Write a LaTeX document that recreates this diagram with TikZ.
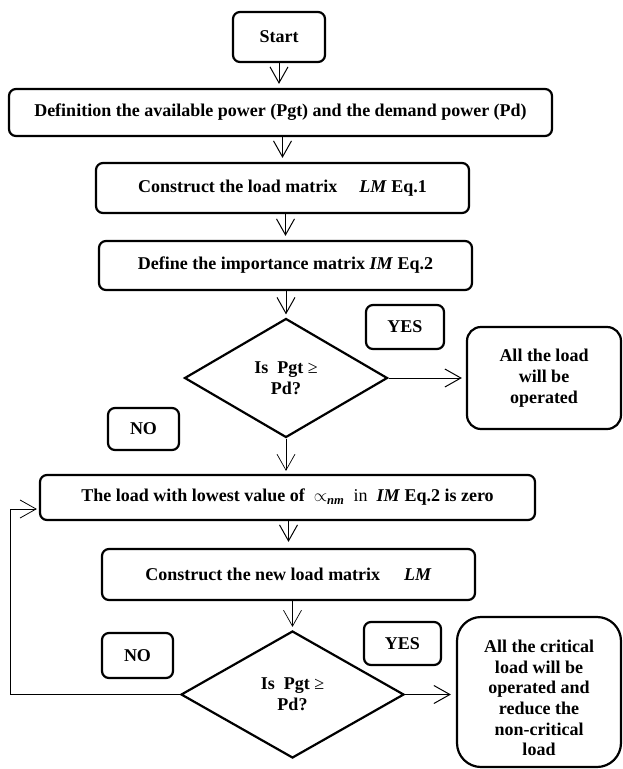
\documentclass[tikz,border=0pt]{standalone}
\usepackage{fontspec}
\setmainfont{Liberation Serif}
\usetikzlibrary{arrows.meta,shapes.geometric}
\begin{document}
\begin{tikzpicture}[x=1pt,y=-1pt,
  every node/.style={font=\fontsize{18}{20.7}\selectfont\bfseries, align=center, inner sep=0pt},
  procbox/.style={draw, line width=2.2pt, rounded corners=7pt},
  tagbox/.style={draw, line width=2.2pt, rounded corners=7pt},
  endbox/.style={draw, line width=2.2pt, rounded corners=14pt},
  decide/.style={draw, diamond, line width=2.2pt, inner sep=0pt},
  arr/.style={line width=1pt, -{Straight Barb[length=16pt,width=18pt]}},
  thinarr/.style={line width=0.7pt, -{Straight Barb[length=16pt,width=18pt]}},
]
\useasboundingbox (0,0) rectangle (622,769);

\node[procbox, minimum width=92pt, minimum height=50pt] (start) at (279,37) {Start};
\node[procbox, minimum width=543pt, minimum height=47pt] (def) at (280.5,112.5) {Definition the available power (Pgt) and the demand power (Pd)};
\node[procbox, minimum width=373pt, minimum height=50pt] (lm) at (282.5,188) {Construct the load matrix\hspace{22pt}\textit{LM} Eq.1};
\node[procbox, minimum width=373pt, minimum height=49pt] (im) at (285.5,265.5) {Define the importance matrix \textit{IM} Eq.2};
\node[decide, minimum width=203pt, minimum height=119pt] (d1) at (286,378) {Is\ \ Pgt {\mdseries ≥}\\Pd?};
\node[endbox, minimum width=154pt, minimum height=102pt] (ok1) at (544,378) {All the load\\will be\\operated};
\node[tagbox, minimum width=78pt, minimum height=44pt] (yes1) at (405,327) {YES};
\node[tagbox, minimum width=71pt, minimum height=42pt] (no1) at (143.5,429) {NO};
\node[procbox, minimum width=495pt, minimum height=45pt] (low) at (287.5,497.5) {The load with lowest value of\ \ $\propto$\textsubscript{\textit{nm}}\ \ {\mdseries in}\ \ \textit{IM} Eq.2 is zero};
\node[procbox, minimum width=373pt, minimum height=51pt] (newlm) at (288.5,574.5) {Construct the new load matrix\hspace{24pt}\textit{LM}};
\node[decide, minimum width=223pt, minimum height=127pt] (d2) at (292.5,694.5) {Is\ \ Pgt {\mdseries ≥}\\Pd?};
\node[tagbox, minimum width=77pt, minimum height=43pt] (yes2) at (402.5,643.5) {YES};
\node[tagbox, minimum width=71pt, minimum height=45pt] (no2) at (137.5,655.5) {NO};
\node[endbox, rounded corners=24pt, minimum width=164pt, minimum height=150pt] (ok2) at (539,692) {};
\node (ok2t) at (539,698) {All the critical\\load will be\\operated and\\reduce the\\non-critical\\load};

\draw[arr, shorten >=4pt] (start.south) -- (start.south |- def.north);
\draw[arr, shorten >=4pt] (lm.north |- def.south) -- (lm.north);
\draw[arr, shorten >=4pt] (im.north |- lm.south) -- (im.north);
\draw[arr, shorten >=3pt] (d1.north |- im.south) -- (d1.north);
\draw[arr, shorten >=4pt] (d1.east) -- (ok1.west);
\draw[thinarr, shorten >=3pt] (d1.south) -- (d1.south |- low.north);
\draw[arr, shorten >=6pt] (newlm.north |- low.south) -- (newlm.north);
\draw[thinarr, shorten >=3pt] (d2.north |- newlm.south) -- (d2.north);
\draw[arr, shorten >=5pt] (d2.east) -- (d2.east -| ok2.west);
\coordinate (loopc) at (10,694.5);
\draw[arr, line width=0.8pt, shorten >=2pt] (d2.west) -- (loopc) |- ([yshift=-11.5pt]low.west);
\end{tikzpicture}
\end{document}
